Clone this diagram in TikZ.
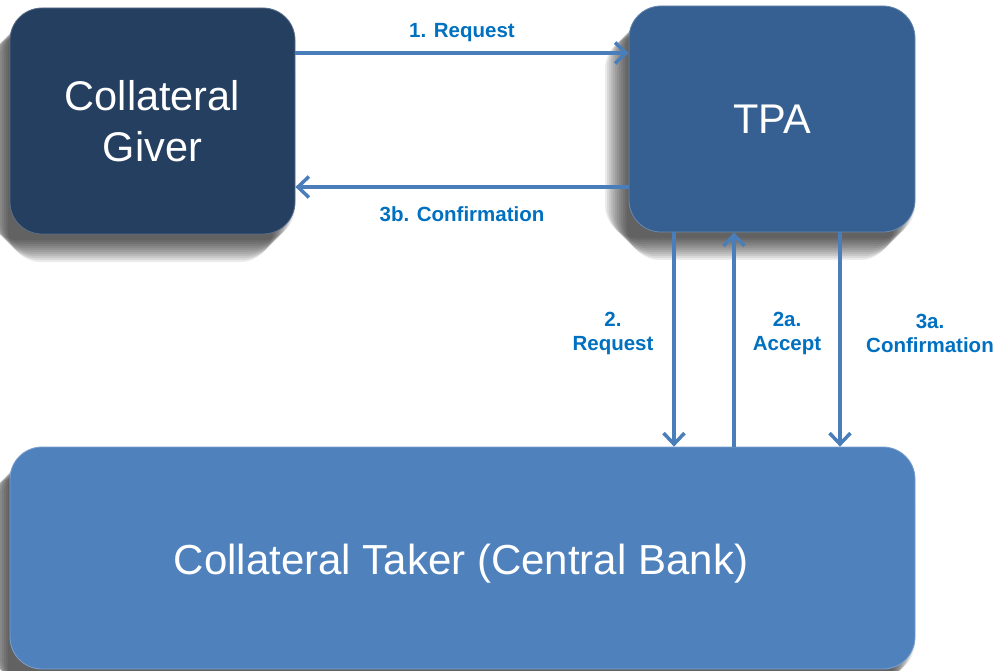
\documentclass[tikz,border=0pt]{standalone}
\usepackage{fontspec}
\setmainfont{Liberation Sans}
\usetikzlibrary{arrows.meta}
\definecolor{giverc}{HTML}{243F60}
\definecolor{tpac}{HTML}{376092}
\definecolor{takerc}{HTML}{4F81BD}
\definecolor{arrc}{HTML}{4A7EBB}
\definecolor{labc}{HTML}{0070C0}
\tikzset{
  box/.style={rectangle, rounded corners=32pt, text=white, align=center,
    font=\fontsize{41.5}{51}\selectfont, inner sep=0pt},
  arr/.style={draw=arrc, line width=3.5pt, -{Straight Barb[length=11pt,width=21pt,line width=3.5pt]}},
  lab/.style={text=labc, font=\bfseries\fontsize{20.5}{24}\selectfont, align=center, inner sep=0pt}
}
% soft shadow behind a node: #1 = node name
\newcommand{\softshadow}[1]{%
  \foreach \k in {-12,-10,...,10}{%
    \fill[black, opacity=0.075, rounded corners=34pt]
      ([xshift=-12pt+\k pt, yshift=-18pt+\k pt]#1.north west) rectangle
      ([xshift=-12pt-\k pt, yshift=-18pt-\k pt]#1.south east);
  }%
}
\begin{document}
\begin{tikzpicture}[x=1pt,y=-1pt]
\useasboundingbox (0,0) rectangle (996,671);
\fill[white] (0,0) rectangle (996,671);
% node geometry (invisible placeholders for shadows)
\path node[box, minimum width=285pt, minimum height=226pt] (sg) at (152.5,121) {}
      node[box, minimum width=286pt, minimum height=226pt] (st) at (772,119) {}
      node[box, minimum width=905pt, minimum height=222pt] (sk) at (462.5,558) {};
\softshadow{sg}
\softshadow{st}
\softshadow{sk}
% boxes
\node[box, fill=giverc, draw=giverc!75!white, line width=0.8pt, minimum width=285pt, minimum height=226pt] (giver) at (152.5,121) {Collateral\\Giver};
\node[box, fill=tpac, draw=tpac!75!white, line width=0.8pt, minimum width=286pt, minimum height=226pt] (tpa) at (772,119) {TPA};
\node[box, fill=takerc, draw=takerc!75!white, line width=0.8pt, minimum width=905pt, minimum height=222pt] (taker) at (462.5,558) {};
\node[text=white, font=\fontsize{42}{48}\selectfont, inner sep=0pt] (takertxt) at (461,564) {Collateral Taker (Central Bank)};
% arrows
\draw[arr] (giver.east |- 0,53) -- (tpa.west |- 0,53);
\draw[arr] (tpa.west |- 0,187) -- (giver.east |- 0,187);
\draw[arr] (tpa.south -| 674,0) -- (taker.north -| 674,0);
\draw[arr] (taker.north -| 734,0) -- (tpa.south -| 734,0);
\draw[arr] (tpa.south -| 840,0) -- (taker.north -| 840,0);
% labels
\node[lab] (l1) at (462,33) {1. Request};
\node[lab] (l3b) at (462,214) {3b. Confirmation};
\node[lab] (l2) at (613,333) {2.\\Request};
\node[lab] (l2a) at (787,333) {2a.\\Accept};
\node[lab] (l3a) at (930,333) {3a.\\Confirmation};
\end{tikzpicture}
\end{document}
